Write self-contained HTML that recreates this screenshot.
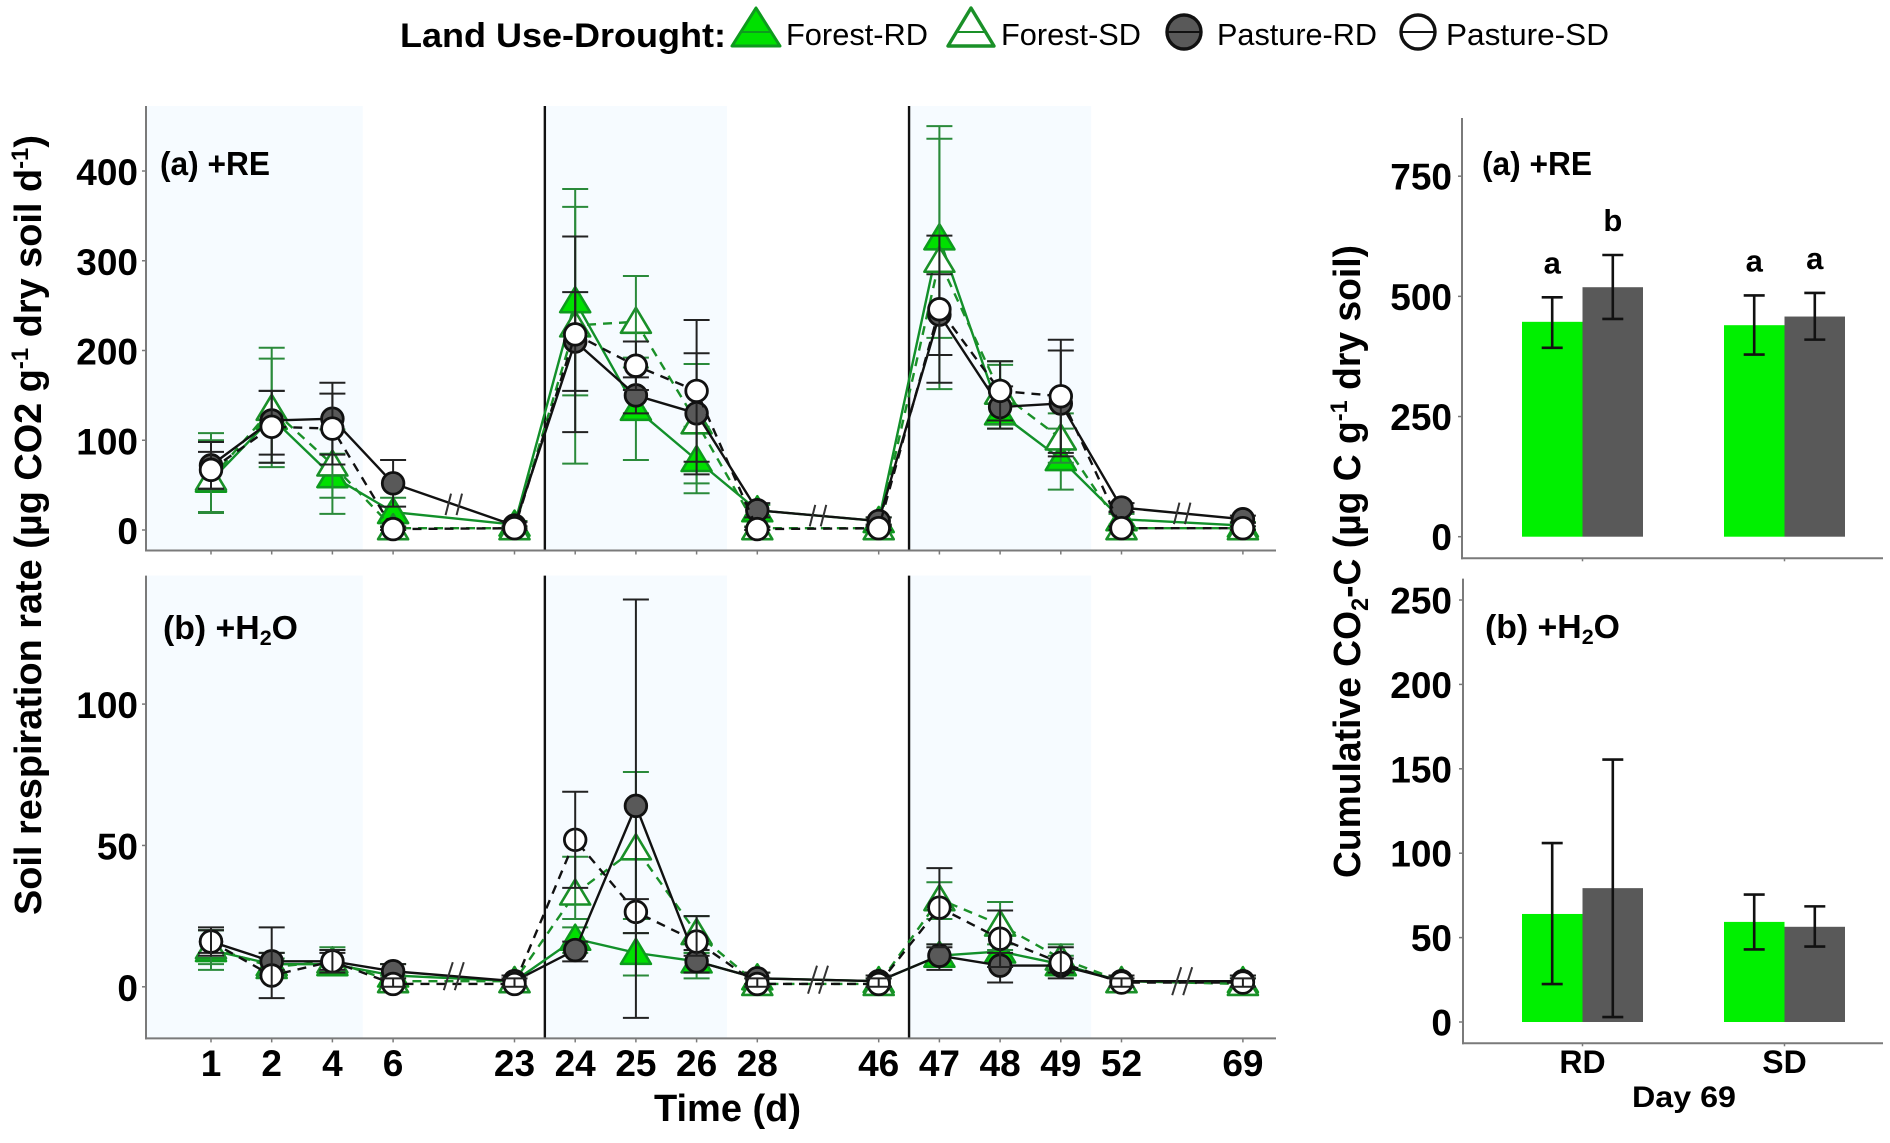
<!DOCTYPE html>
<html lang="en">
<head>
<meta charset="utf-8">
<title>Soil respiration and cumulative CO2-C by land use and drought</title>
<style>
html,body{margin:0;padding:0;background:#fff;}
svg{display:block;font-family:"Liberation Sans",sans-serif;}
text{fill:#000;}
.b{font-weight:bold;}
</style>
</head>
<body>
<svg id="chart" xmlns="http://www.w3.org/2000/svg" width="1890" height="1143" viewBox="0 0 1890 1143">
  <rect width="1890" height="1143" fill="#fff"/>

  <g>
    <text class="b" x="400" y="47" font-size="34" textLength="326" lengthAdjust="spacingAndGlyphs">Land Use-Drought:</text>
    <g>
      <polygon points="756,8 732,46 780,46" fill="#00e000" stroke="#0e9a1e" stroke-width="3" stroke-linejoin="round"/>
      <line x1="740" y1="32" x2="772" y2="32" stroke="#0e9a1e" stroke-width="2"/>
      <text x="786" y="45" font-size="31" textLength="142" lengthAdjust="spacingAndGlyphs">Forest-RD</text>
    </g>
    <g>
      <polygon points="971,8 948,46 994,46" fill="#fff" stroke="#1a9028" stroke-width="3.4" stroke-linejoin="round"/>
      <line x1="955" y1="32" x2="987" y2="32" stroke="#1a9028" stroke-width="2"/>
      <text x="1001" y="45" font-size="31" textLength="140" lengthAdjust="spacingAndGlyphs">Forest-SD</text>
    </g>
    <g>
      <circle cx="1184" cy="32" r="17" fill="#595959" stroke="#111" stroke-width="3.4"/>
      <line x1="1168" y1="32" x2="1200" y2="32" stroke="#111" stroke-width="2"/>
      <text x="1217" y="45" font-size="31" textLength="160" lengthAdjust="spacingAndGlyphs">Pasture-RD</text>
    </g>
    <g>
      <circle cx="1418" cy="32" r="17" fill="#fff" stroke="#111" stroke-width="3.4"/>
      <line x1="1402" y1="32" x2="1434" y2="32" stroke="#111" stroke-width="2"/>
      <text x="1446" y="45" font-size="31" textLength="163" lengthAdjust="spacingAndGlyphs">Pasture-SD</text>
    </g>
  </g>

  <g id="plots"></g>

  <text class="b" transform="translate(41,915) rotate(-90)" font-size="38" textLength="780" lengthAdjust="spacingAndGlyphs">Soil respiration rate (µg CO2 g<tspan dy="-13" font-size="24">-1</tspan><tspan dy="13"> dry soil d</tspan><tspan dy="-13" font-size="24">-1</tspan><tspan dy="13">)</tspan></text>
  <text class="b" x="654" y="1121" font-size="38" textLength="147" lengthAdjust="spacingAndGlyphs">Time (d)</text>
  <text class="b" transform="translate(1360,878) rotate(-90)" font-size="38" textLength="633" lengthAdjust="spacingAndGlyphs">Cumulative CO<tspan dy="8" font-size="24">2</tspan><tspan dy="-8">-C (µg C g</tspan><tspan dy="-13" font-size="24">-1</tspan><tspan dy="13"> dry soil)</tspan></text>
  <text class="b" x="160" y="175" font-size="33" textLength="110" lengthAdjust="spacingAndGlyphs">(a) +RE</text>
  <text class="b" x="163" y="639" font-size="33" textLength="135" lengthAdjust="spacingAndGlyphs">(b) +H<tspan dy="6" font-size="21">2</tspan><tspan dy="-6">O</tspan></text>
  <text class="b" x="1482" y="175" font-size="33" textLength="110" lengthAdjust="spacingAndGlyphs">(a) +RE</text>
  <text class="b" x="1485" y="638" font-size="33" textLength="135" lengthAdjust="spacingAndGlyphs">(b) +H<tspan dy="6" font-size="21">2</tspan><tspan dy="-6">O</tspan></text>
  <text class="b" x="1632" y="1107" font-size="30" textLength="104" lengthAdjust="spacingAndGlyphs">Day 69</text>
</svg>

<script>
// ---------- categories and ticks ----------
const timeSlots = ['1','2','4','6',null,'23','24','25','26','28',null,'46','47','48','49','52',null,'69'];
const days = ['1','2','4','6','23','24','25','26','28','46','47','48','49','52','69'];
const reTicks = [0,100,200,300,400];
const h2oTicks = [0,50,100];
const cumReTicks = [0,250,500,750];
const cumH2oTicks = [0,50,100,150,200,250];
const droughtCategories = ['RD','SD'];
const landUses = ['Forest','Pasture'];

// ---------- time series: +RE panel ----------
const reForestRD   = [55,125,60,20,6,255,135,78,22,10,325,130,79,12,5];
const reForestRDHi = [100,191,85,36,10,360,192,115,28,14,436,184,113,18,9];
const reForestRDLo = [20,75,18,4,2,150,78,41,16,6,214,113,45,6,1];
const reForestSD   = [57,135,73,2,2,228,232,120,2,2,300,153,102,2,2];
const reForestSDHi = [108,203,112,4,4,380,283,185,4,4,450,188,130,4,4];
const reForestSDLo = [19,70,36,0,0,74,181,52,0,0,157,118,75,0,0];
const rePastureRD   = [72,122,124,52,5,210,150,130,22,10,240,137,141,25,12];
const rePastureRDHi = [98,155,164,78,9,265,170,197,30,14,285,160,200,30,16];
const rePastureRDLo = [46,84,84,26,1,155,130,62,14,6,195,113,82,20,8];
const rePastureSD   = [67,115,113,1,2,218,183,155,1,2,246,155,149,2,2];
const rePastureSDHi = [87,155,152,3,4,327,210,234,3,4,328,188,212,4,4];
const rePastureSDLo = [46,75,73,0,0,109,156,76,0,0,164,122,86,0,0];

// ---------- time series: +H2O panel ----------
const h2oForestRD   = [13,8,8,4,2,17,12,9,3,2,11,12.5,8,2,2];
const h2oForestRDHi = [20,12,13,8,4,21,19,12,5,4,15,15,11,4,4];
const h2oForestRDLo = [6,5,5,1,0,12,4,3,1,0,7,9,5,0,0];
const h2oForestSD   = [14,7,9,2,2,33,49,19,1,1,31,22,10,2,1];
const h2oForestSDHi = [20,10,14,4,4,46,76,25,3,3,37,30,15,4,3];
const h2oForestSDLo = [8,4,5,0,0,24,24,12,0,0,24,13,5,0,0];
const h2oPastureRD   = [16,9,9,5.5,2,13,64,9,3,2,11,7.5,7.5,2,2];
const h2oPastureRDHi = [20,12,12,8,4,16,137,13,5,4,15,12,10,4,4];
const h2oPastureRDLo = [12,6,6,3,0,9,-11,5,1,0,6,1.5,5,0,0];
const h2oPastureSD   = [16,4,9,1,1,52,26.5,16,1,1,28,17,8.5,1.5,1.5];
const h2oPastureSDHi = [21,21,13,3,3,69,31,25,3,3,42,27,14,3,3];
const h2oPastureSDLo = [11,-4,5,0,0,35,19,11,0,0,14,7,3,0,0];

// ---------- cumulative bars (Forest, Pasture within RD, SD) ----------
const cumReRD   = [447,519];
const cumReRDHi = [498,586];
const cumReRDLo = [393,453];
const cumReSD   = [440,458];
const cumReSDHi = [502,507];
const cumReSDLo = [379,410];
const cumReLetters = ['a','b','a','a'];
const cumH2oRD   = [64,79.3];
const cumH2oRDHi = [106,155.5];
const cumH2oRDLo = [22.5,2.9];
const cumH2oSD   = [59.3,56.4];
const cumH2oSDHi = [75.5,68.5];
const cumH2oSDLo = [43,44.7];

// ---------- drawing ----------
const NS = 'http://www.w3.org/2000/svg';
const root = document.getElementById('plots');
function mk(parent, tag, attrs, text) {
  const el = document.createElementNS(NS, tag);
  for (const k in attrs) el.setAttribute(k, attrs[k]);
  if (text !== undefined) el.textContent = text;
  parent.appendChild(el);
  return el;
}
const AXIS = '#7a7a7a';
const slotX = s => 211 + 60.7 * s;
const dayX = d => slotX(timeSlots.indexOf(d));
const shadeSlots = [[-1.07,2.5],[5.5,8.5],[11.5,14.5]];
const droughtLineSlots = [5.5,11.5];
const breakSlots = [4,10,16];

const seriesStyles = {
  forestRD:  {kind:'tri', fill:'#00e000', stroke:'#0e9a1e', line:'#12902a', dash:'', errColor:'#2a8a3a'},
  forestSD:  {kind:'tri', fill:'#ffffff', stroke:'#1a9028', line:'#1a9028', dash:'9 7', errColor:'#2a8a3a', errTop:true},
  pastureRD: {kind:'cir', fill:'#595959', stroke:'#111111', line:'#111111', dash:'', errColor:'#222222'},
  pastureSD: {kind:'cir', fill:'#ffffff', stroke:'#111111', line:'#111111', dash:'9 7', errColor:'#222222'}
};

function drawTimePanel(cfg) {
  const y = v => cfg.y0 - cfg.k * v;
  const g = mk(root, 'g', {});
  
  

  shadeSlots.forEach(r => {
    const x0 = slotX(r[0]);
    const rect = mk(g, 'rect', {x:x0, y:cfg.top, width:slotX(r[1]) - x0, height:cfg.bottom - cfg.top, fill:'#f6fbff'});
    
    
  });
  droughtLineSlots.forEach(s => {
    const l = mk(g, 'line', {x1:slotX(s), x2:slotX(s), y1:cfg.top, y2:cfg.bottom, stroke:'#111', 'stroke-width':2.4});
    
    
  });

  const yAxis = mk(g, 'line', {x1:146, x2:146, y1:cfg.top, y2:cfg.bottom + 1, stroke:AXIS, 'stroke-width':2});
  
  
  const xAxis = mk(g, 'line', {x1:145, x2:1276, y1:cfg.bottom, y2:cfg.bottom, stroke:AXIS, 'stroke-width':2});
  
  

  cfg.ticks.forEach(t => {
    const tk = mk(g, 'line', {x1:142, x2:146, y1:y(t), y2:y(t), stroke:AXIS, 'stroke-width':1.5});
    
    
    const lb = mk(g, 'text', {x:138, y:y(t) + 14, 'text-anchor':'end', 'font-size':37, 'font-weight':'bold'}, String(t));
    
    
  });
  days.forEach(d => {
    const tk = mk(g, 'line', {x1:dayX(d), x2:dayX(d), y1:cfg.bottom, y2:cfg.bottom + 4, stroke:AXIS, 'stroke-width':1.5});
    
    
    if (cfg.showXLabels) {
      const lb = mk(g, 'text', {x:dayX(d), y:1076, 'text-anchor':'middle', 'font-size':37, 'font-weight':'bold'}, d);
      
      
    }
  });

  cfg.series.forEach(s => {
    const st = seriesStyles[s.style];
    const sg = mk(g, 'g', {});
    
    

    const pts = days.map((d, i) => dayX(d) + ',' + y(s.v[i])).join(' ');
    const pl = mk(sg, 'polyline', {points:pts, fill:'none', stroke:st.line, 'stroke-width':2.4, 'stroke-dasharray':st.dash});
    
    

    const drawErr = () => days.forEach((d, i) => {
      const x = dayX(d);
      const eg = mk(sg, 'path', {
        d:'M' + x + ' ' + y(s.hi[i]) + 'V' + y(s.lo[i]) +
          'M' + (x - 13) + ' ' + y(s.hi[i]) + 'H' + (x + 13) +
          'M' + (x - 13) + ' ' + y(s.lo[i]) + 'H' + (x + 13),
        fill:'none', stroke:st.errColor, 'stroke-width':2
      });
      
      
    });
    const top = st.errTop || (cfg.crossOnTop && s.style === 'pastureSD');
    if (!top) drawErr();
    days.forEach((d, i) => {
      const x = dayX(d), py = y(s.v[i]);
      let m;
      if (st.kind === 'tri') {
        m = mk(sg, 'polygon', {points:x + ',' + (py - 14) + ' ' + (x - 15) + ',' + (py + 11) + ' ' + (x + 15) + ',' + (py + 11),
          fill:st.fill, stroke:st.stroke, 'stroke-width':2.6, 'stroke-linejoin':'round'});
      } else {
        m = mk(sg, 'circle', {cx:x, cy:py, r:10.8, fill:st.fill, stroke:st.stroke, 'stroke-width':2.8});
      }
      
      
    });
    if (top) drawErr();
  });

  const ref = cfg.series[2].v;
  breakSlots.forEach(slot => {
    const before = days.indexOf(timeSlots[slot - 1]);
    const cy = y((ref[before] + ref[before + 1]) / 2);
    [-5.5, 5.5].forEach(off => {
      const cx = slotX(slot) + off;
      const br = mk(g, 'line', {x1:cx - cfg.breakDx / 2, y1:cy + cfg.breakDy / 2, x2:cx + cfg.breakDx / 2, y2:cy - cfg.breakDy / 2, stroke:'#333', 'stroke-width':2});
      
      
    });
  });
}

function drawBarPanel(cfg) {
  const y = v => cfg.y0 - cfg.k * v;
  const catX = i => 1582.5 + 202 * i;
  const g = mk(root, 'g', {});
  
  

  const yAxis = mk(g, 'line', {x1:cfg.left, x2:cfg.left, y1:cfg.top, y2:cfg.bottom + 1, stroke:AXIS, 'stroke-width':2});
  
  
  const xAxis = mk(g, 'line', {x1:cfg.left - 1, x2:1883, y1:cfg.bottom, y2:cfg.bottom, stroke:AXIS, 'stroke-width':2});
  
  

  cfg.ticks.forEach(t => {
    const tk = mk(g, 'line', {x1:cfg.left - 4, x2:cfg.left, y1:y(t), y2:y(t), stroke:AXIS, 'stroke-width':1.5});
    
    
    const lb = mk(g, 'text', {x:1452, y:y(t) + 13.5, 'text-anchor':'end', 'font-size':37, 'font-weight':'bold'}, String(t));
    
    
  });

  droughtCategories.forEach((c, ci) => {
    const tk = mk(g, 'line', {x1:catX(ci), x2:catX(ci), y1:cfg.bottom, y2:cfg.bottom + 3, stroke:AXIS, 'stroke-width':1.5});
    
    
    if (cfg.showXLabels) {
      const lb = mk(g, 'text', {x:catX(ci), y:1073, 'text-anchor':'middle', 'font-size':32, 'font-weight':'bold'}, c);
      
      
    }
    const vals = cfg.values[ci], his = cfg.hi[ci], los = cfg.lo[ci];
    landUses.forEach((u, ui) => {
      const x0 = catX(ci) + (ui === 0 ? -60.5 : 0);
      const bar = mk(g, 'rect', {x:x0, y:y(vals[ui]), width:60.5, height:y(0) - y(vals[ui]), fill:ui === 0 ? '#00f000' : '#595959'});
      
      
    });
    landUses.forEach((u, ui) => {
      const cx = catX(ci) + (ui === 0 ? -30.3 : 30.3);
      const eb = mk(g, 'path', {
        d:'M' + cx + ' ' + y(his[ui]) + 'V' + y(los[ui]) +
          'M' + (cx - 10.5) + ' ' + y(his[ui]) + 'H' + (cx + 10.5) +
          'M' + (cx - 10.5) + ' ' + y(los[ui]) + 'H' + (cx + 10.5),
        fill:'none', stroke:'#111', 'stroke-width':2.6
      });
      
      
      if (cfg.letters) {
        const lt = mk(g, 'text', {x:cx, y:y(his[ui]) - 24, 'text-anchor':'middle', 'font-size':31, 'font-weight':'bold'}, cfg.letters[ci * 2 + ui]);
        
        
      }
    });
  });
}

drawTimePanel({
  name:'respiration-panel-re', top:106, bottom:550.5, y0:530, k:0.8975, ticks:reTicks,
  showXLabels:false, crossOnTop:false, breakDx:5.5, breakDy:21.5,
  series:[
    {label:'forest-rd', style:'forestRD', v:reForestRD, hi:reForestRDHi, lo:reForestRDLo},
    {label:'forest-sd', style:'forestSD', v:reForestSD, hi:reForestSDHi, lo:reForestSDLo},
    {label:'pasture-rd', style:'pastureRD', v:rePastureRD, hi:rePastureRDHi, lo:rePastureRDLo},
    {label:'pasture-sd', style:'pastureSD', v:rePastureSD, hi:rePastureSDHi, lo:rePastureSDLo}
  ]
});
drawTimePanel({
  name:'respiration-panel-h2o', top:575.6, bottom:1038.4, y0:986.8, k:2.827, ticks:h2oTicks,
  showXLabels:true, crossOnTop:true, breakDx:9, breakDy:28,
  series:[
    {label:'forest-rd', style:'forestRD', v:h2oForestRD, hi:h2oForestRDHi, lo:h2oForestRDLo},
    {label:'forest-sd', style:'forestSD', v:h2oForestSD, hi:h2oForestSDHi, lo:h2oForestSDLo},
    {label:'pasture-rd', style:'pastureRD', v:h2oPastureRD, hi:h2oPastureRDHi, lo:h2oPastureRDLo},
    {label:'pasture-sd', style:'pastureSD', v:h2oPastureSD, hi:h2oPastureSDHi, lo:h2oPastureSDLo}
  ]
});
drawBarPanel({
  name:'cumulative-panel-re', left:1462, top:118, bottom:558.3, y0:536.7, k:0.4807, ticks:cumReTicks,
  showXLabels:false, letters:cumReLetters,
  values:[cumReRD, cumReSD], hi:[cumReRDHi, cumReSDHi], lo:[cumReRDLo, cumReSDLo]
});
drawBarPanel({
  name:'cumulative-panel-h2o', left:1463, top:578.6, bottom:1043.3, y0:1022, k:1.688, ticks:cumH2oTicks,
  showXLabels:true, letters:null,
  values:[cumH2oRD, cumH2oSD], hi:[cumH2oRDHi, cumH2oSDHi], lo:[cumH2oRDLo, cumH2oSDLo]
});
</script>
</body>
</html>
